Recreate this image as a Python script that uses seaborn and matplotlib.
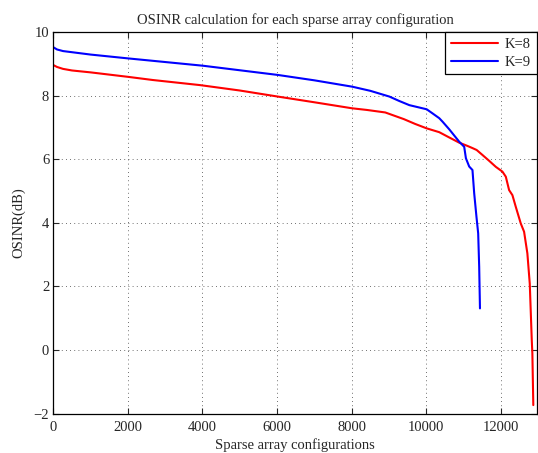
import matplotlib
matplotlib.use("Agg")
import matplotlib.pyplot as plt
import seaborn as sns
import pandas as pd

# K=8 series (readings from reference)
k8_x = [0, 100, 260, 500, 1000, 2000, 2668, 3933, 5000, 6016, 7000, 8016, 8400, 8900,
        9400, 9700, 10011, 10348, 10590, 10884, 11100, 11239, 11351, 11500, 11686,
        11865, 12042, 12133, 12221, 12310, 12401, 12534, 12623, 12711, 12775, 12802,
        12829, 12845, 12870]
k8_y = [8.96, 8.90, 8.84, 8.79, 8.73, 8.59, 8.49, 8.33, 8.16, 7.97, 7.79, 7.60, 7.55,
        7.47, 7.26, 7.11, 6.97, 6.85, 6.70, 6.52, 6.42, 6.35, 6.29, 6.14, 5.95,
        5.76, 5.61, 5.45, 5.03, 4.87, 4.50, 3.98, 3.72, 3.04, 2.09, 1.20,
        0.31, -0.11, -1.73]

# K=9 series
k9_x = [0, 100, 260, 1000, 2000, 4006, 6016, 7000, 8016, 8500, 9010, 9277, 9546, 10011,
        10169, 10348, 10437, 10616, 10884, 11017, 11063, 11151, 11239, 11285, 11346,
        11392, 11419, 11440]
k9_y = [9.52, 9.45, 9.40, 9.29, 9.17, 8.94, 8.65, 8.48, 8.28, 8.15, 7.97, 7.83, 7.70,
        7.57, 7.44, 7.29, 7.18, 6.94, 6.55, 6.39, 6.03, 5.77, 5.66, 4.93, 4.19,
        3.67, 2.62, 1.31]

labels = ["K=8", "K=9"]
x_ticks = [0, 2000, 4000, 6000, 8000, 10000, 12000]
y_ticks = [-2, 0, 2, 4, 6, 8, 10]

df = pd.concat([
    pd.DataFrame({"x": k8_x, "y": k8_y, "K": labels[0]}),
    pd.DataFrame({"x": k9_x, "y": k9_y, "K": labels[1]}),
], ignore_index=True)

sns.set_style("ticks")
plt.rcParams["font.family"] = ["Liberation Serif", "DejaVu Serif"]
plt.rcParams["mathtext.fontset"] = "stix"

fig = plt.figure(figsize=(5.38, 4.53), dpi=100)
ax = fig.add_axes([0.0991, 0.0868, 0.8991, 0.8426])

sns.lineplot(data=df, x="x", y="y", hue="K", palette={"K=8": "#ff0000", "K=9": "#0000ff"},
             linewidth=1.5, ax=ax, sort=False, estimator=None)

ax.set_xlim(0, 12970)
ax.set_ylim(-2, 10)
ax.set_xticks(x_ticks)
ax.set_yticks(y_ticks)
ax.set_xticklabels([str(v) for v in x_ticks], fontsize=10.5)
ax.set_yticklabels([str(v).replace("-", "\u2212") for v in y_ticks], fontsize=10.5)
ax.tick_params(direction="in", length=4, width=0.8, top=True, right=True)
ax.tick_params(axis="x", pad=5)
ax.tick_params(axis="y", pad=3)
ax.grid(True, linestyle=(0, (1, 4)), color="black", linewidth=0.6, alpha=0.75)
for s in ax.spines.values():
    s.set_linewidth(0.9)
    s.set_color("black")

ax.set_title("OSINR calculation for each sparse array configuration", fontsize=10.5, pad=6)
ax.set_xlabel("Sparse array configurations", fontsize=10.5, labelpad=3)
ax.set_ylabel("OSINR(dB)", fontsize=10.5, labelpad=6)

leg = ax.legend(loc="upper right", borderaxespad=0, fontsize=10.5, fancybox=False,
                framealpha=1, edgecolor="black", handlelength=3.2, handletextpad=0.5,
                borderpad=0.4, labelspacing=0.3)
leg.get_frame().set_linewidth(0.9)

fig.savefig("out.png", dpi=100)
